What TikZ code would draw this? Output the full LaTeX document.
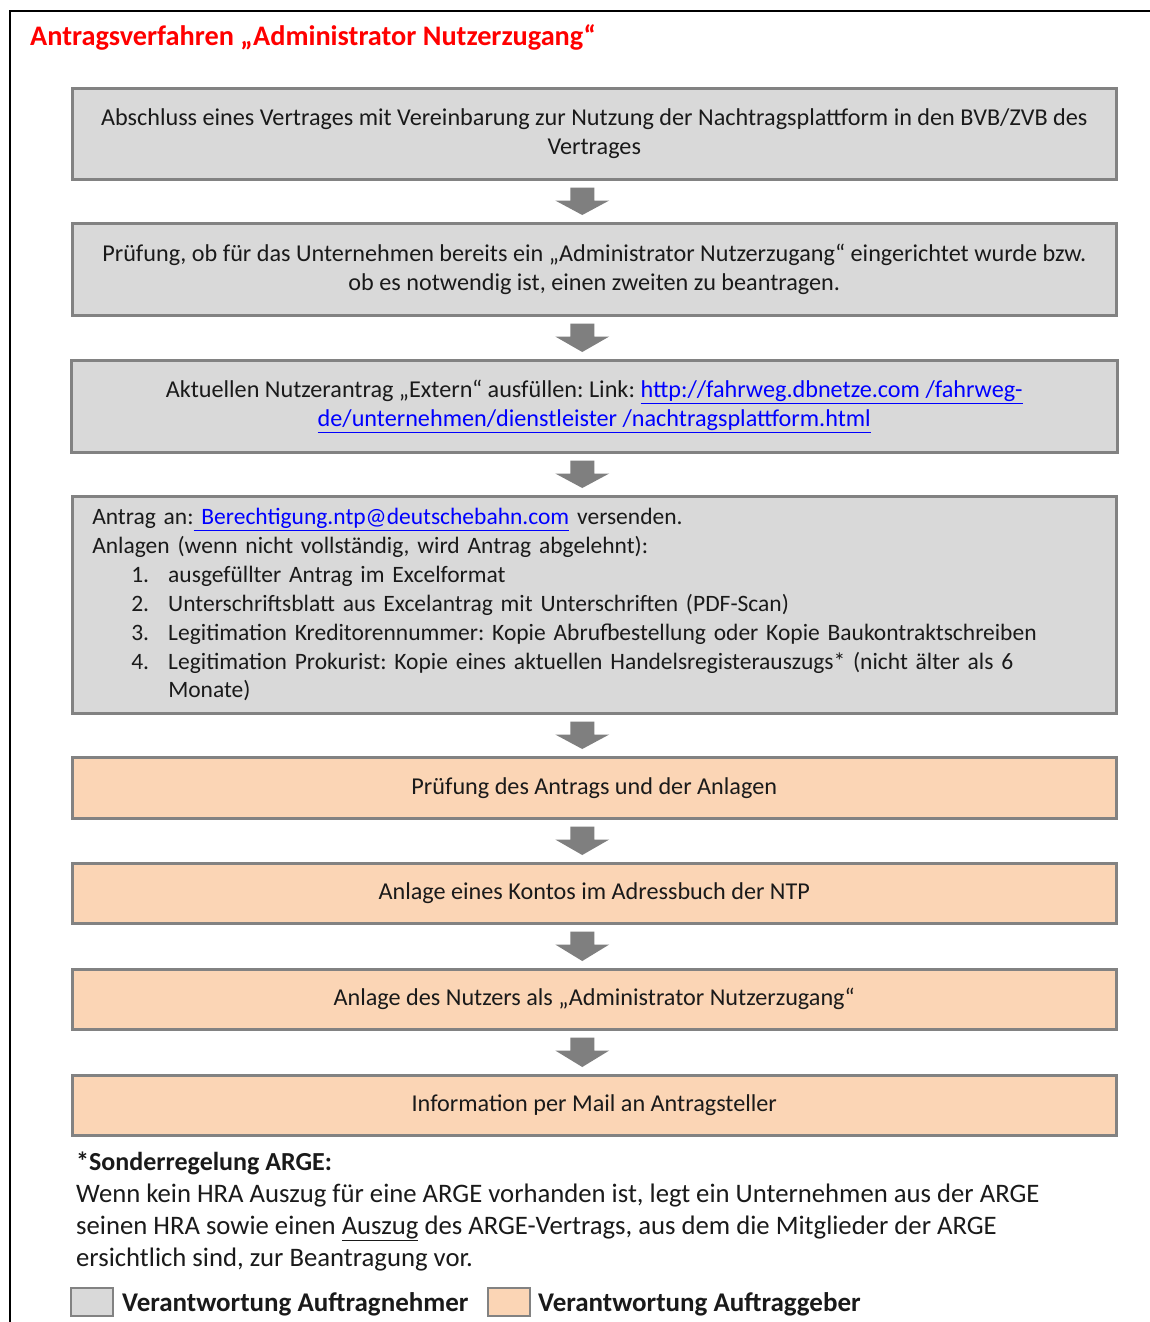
\documentclass[tikz,border=0pt]{standalone}
\usepackage{fontspec}
\setmainfont{Carlito}
\frenchspacing
\usetikzlibrary{calc}
\definecolor{boxgray}{HTML}{D9D9D9}
\definecolor{boxorange}{HTML}{FBD5B5}
\definecolor{edgegray}{HTML}{828282}
\definecolor{arrowgray}{HTML}{7F7F7F}
\definecolor{linkblue}{HTML}{0000FF}
\definecolor{txt}{HTML}{1A1A1A}
\newcommand{\flowarrow}[2]{%
  \fill[arrowgray] ([xshift=-24pt,yshift=-7pt]#1.south) -- ([yshift=-7pt]#1.south)
    -- ([yshift=-20pt]#1.south) -- ([xshift=15pt,yshift=-20pt]#1.south)
    -- ([xshift=-12pt,yshift=7pt]#2.north) -- ([xshift=-39pt,yshift=-20pt]#1.south)
    -- ([xshift=-24pt,yshift=-20pt]#1.south) -- cycle;}
\newcommand{\lnk}[1]{\textcolor{linkblue}{\underline{#1}}}
\begin{document}
\begin{tikzpicture}[x=1pt,y=-1pt,
  flowbox/.style={draw=edgegray, line width=2.5pt, minimum width=1044pt, anchor=north west,
    align=center, text=txt, inner sep=0pt, font=\fontsize{24.2}{28.6}\selectfont},
  graybox/.style={flowbox, fill=boxgray},
  orangebox/.style={flowbox, fill=boxorange},
  plain/.style={anchor=base west, inner sep=0pt, text=txt, font=\fontsize{26.7}{32}\selectfont, align=left},
  legsq/.style={draw=edgegray, line width=2pt, minimum width=42pt, minimum height=28pt, anchor=north west, inner sep=0pt}]
\useasboundingbox (0,0) rectangle (1149,1322);
\fill[white] (0,0) rectangle (1149,1322);
\draw[line width=2.5pt] (10,1323) -- (10,11) -- (1150,11);
\node[anchor=base west, inner sep=0pt, text=red, font=\fontsize{28.3}{32}\selectfont\bfseries] (title) at (30,46)
  {Antragsverfahren „Administrator Nutzerzugang“};
\node[graybox, minimum height=91pt] (b1) at (71,87)
  {Abschluss eines Vertrages mit Vereinbarung zur Nutzung der Nachtragsplattform in den BVB/ZVB des\\Vertrages};
\node[graybox, minimum height=92pt] (b2) at (71,222)
  {Prüfung, ob für das Unternehmen bereits ein „Administrator Nutzerzugang“ eingerichtet wurde bzw.\\ob es notwendig ist, einen zweiten zu beantragen.};
\node[graybox, minimum height=92pt, minimum width=1046pt] (b3) at (70,359)
  {Aktuellen Nutzerantrag „Extern“ ausfüllen: Link: \lnk{http://fahrweg.dbnetze.com /fahrweg-}\\\lnk{de/unternehmen/dienstleister /nachtragsplattform.html}};
\node[graybox, minimum height=217pt, align=left, text width=1004pt, inner xsep=20pt,
      font=\fontsize{23.5}{28.9}\selectfont] (b4) at (71,495)
  {Antrag an:\lnk{ Berechtigung.ntp@deutschebahn.com} versenden.\\
   Anlagen (wenn nicht vollständig, wird Antrag abgelehnt):\\
   \hspace*{39pt}\makebox[37pt][l]{1.}ausgefüllter Antrag im Excelformat\\
   \hspace*{39pt}\makebox[37pt][l]{2.}Unterschriftsblatt aus Excelantrag mit Unterschriften (PDF-Scan)\\
   \hspace*{39pt}\makebox[37pt][l]{3.}Legitimation Kreditorennummer: Kopie Abrufbestellung oder Kopie Baukontraktschreiben\\
   \hspace*{39pt}\makebox[37pt][l]{4.}Legitimation Prokurist: Kopie eines aktuellen Handelsregisterauszugs* (nicht älter als 6\\
   \hspace*{76pt}Monate)};
\node[orangebox, minimum height=61pt] (b5) at (71,756) {Prüfung des Antrags und der Anlagen};
\node[orangebox, minimum height=60pt] (b6) at (71,862) {Anlage eines Kontos im Adressbuch der NTP};
\node[orangebox, minimum height=60pt] (b7) at (71,968) {Anlage des Nutzers als „Administrator Nutzerzugang“};
\node[orangebox, minimum height=60pt] (b8) at (71,1074) {Information per Mail an Antragsteller};
\flowarrow{b1}{b2}
\flowarrow{b2}{b3}
\flowarrow{b3}{b4}
\flowarrow{b4}{b5}
\flowarrow{b5}{b6}
\flowarrow{b6}{b7}
\flowarrow{b7}{b8}
\node[plain, font=\fontsize{26}{32}\selectfont\bfseries] (fnhead) at (76,1170) {*Sonderregelung ARGE:};
\node[plain] (fn1) at (76,1202) {Wenn kein HRA Auszug für eine ARGE vorhanden ist, legt ein Unternehmen aus der ARGE};
\node[plain] (fn2) at (76,1234) {seinen HRA sowie einen \underline{Auszug} des ARGE-Vertrags, aus dem die Mitglieder der ARGE};
\node[plain] (fn3) at (76,1266) {ersichtlich sind, zur Beantragung vor.};
\node[legsq, fill=boxgray] (lg1) at (70,1287) {};
\node[plain, font=\fontsize{27}{30}\selectfont\bfseries] (lt1) at (122,1311) {Verantwortung Auftragnehmer};
\node[legsq, fill=boxorange] (lg2) at (487,1287) {};
\node[plain, font=\fontsize{27}{30}\selectfont\bfseries] (lt2) at (538,1311) {Verantwortung Auftraggeber};
\end{tikzpicture}
\end{document}
